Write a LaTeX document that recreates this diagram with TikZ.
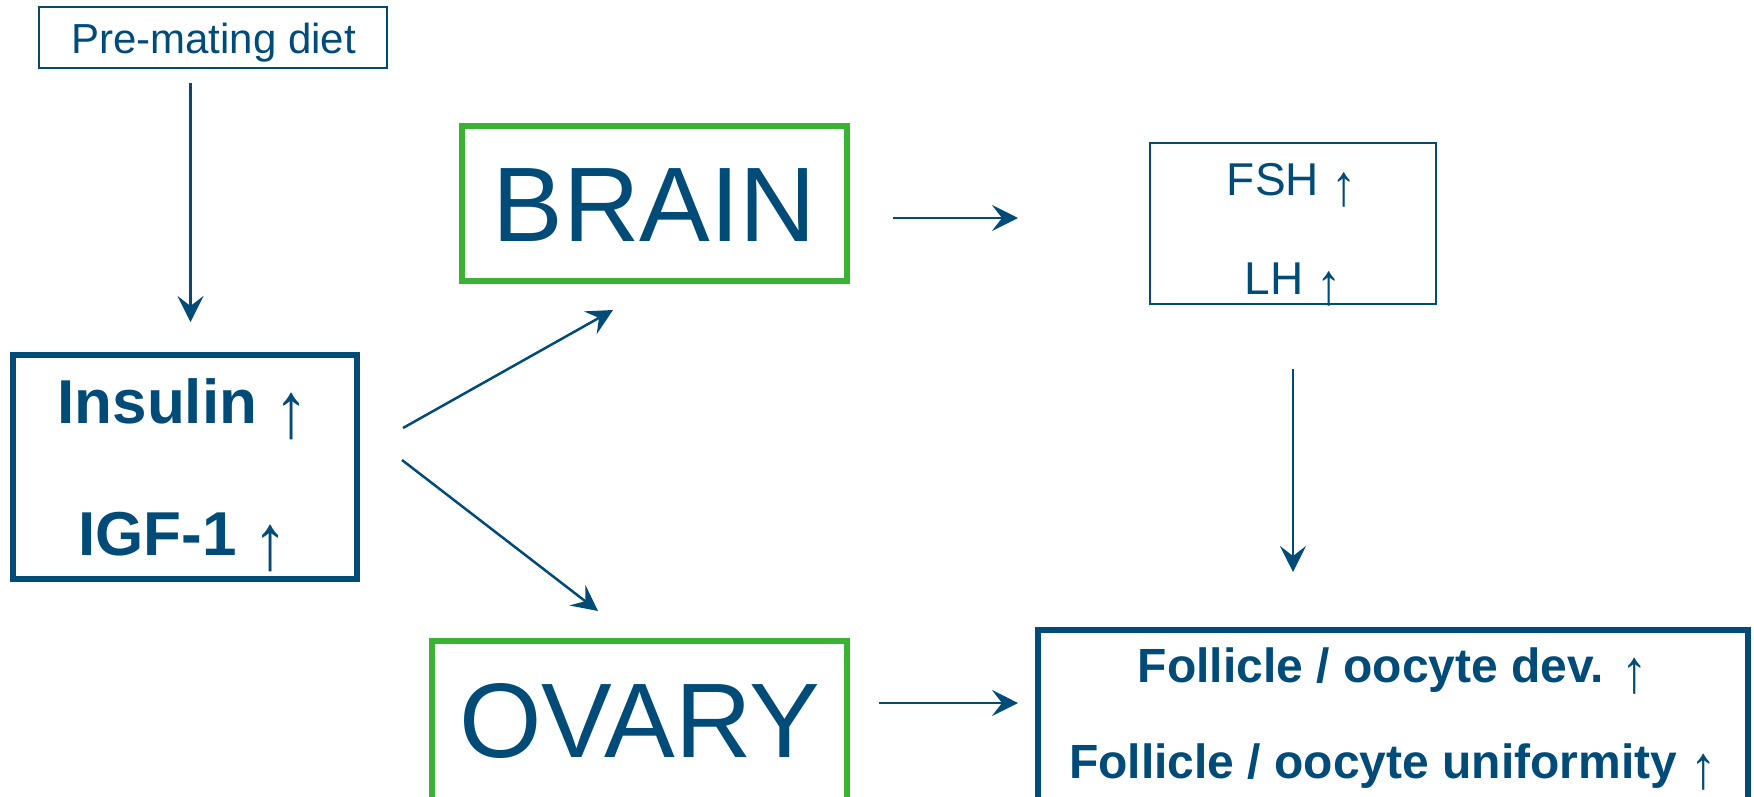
\documentclass[tikz,border=0pt]{standalone}
\usepackage{graphicx}
\usepackage{fontspec}
\setmainfont{Liberation Sans}
\usetikzlibrary{arrows.meta}
\definecolor{navy}{RGB}{0,75,120}
\definecolor{lgreen}{RGB}{58,178,52}
\newcommand\uarr{{\mdseries\raisebox{-0.226em}{\scalebox{1.1}[1.27]{↑}}}}
\begin{document}
\begin{tikzpicture}[x=1pt,y=-1pt,
  bluebox/.style={draw=navy, inner sep=0pt},
  greenbox/.style={draw=lgreen, line width=6pt, inner sep=0pt},
  txt/.style={text=navy, inner sep=0pt, anchor=base},
  conn/.style={draw=navy, line width=2.5pt, -{Stealth[length=26pt,width=26pt,inset=10pt]}}]
\clip (0,0) rectangle (1754,796);
% boxes
\node[bluebox, line width=2pt, minimum width=348pt, minimum height=61pt] (pre) at (213,37.5) {};
\node[bluebox, line width=6pt, minimum width=344pt, minimum height=224pt] (ins) at (185,467) {};
\node[greenbox, minimum width=385pt, minimum height=155pt] (brain) at (654.5,203.5) {};
\node[greenbox, minimum width=415pt, minimum height=219pt] (ovary) at (639.5,750.5) {};
\node[bluebox, line width=2pt, minimum width=286pt, minimum height=161pt] (hor) at (1293,223.5) {};
\node[bluebox, line width=6pt, minimum width=710pt, minimum height=230pt] (fol) at (1393,745) {};
% texts
\node[txt, font=\fontsize{42}{50}\selectfont] (pretxt) at (213.5,53) {Pre-mating diet};
\node[txt, font=\fontsize{62}{74}\selectfont\bfseries] (instxt) at (183,423) {Insulin \uarr};
\node[txt, font=\fontsize{62}{74}\selectfont\bfseries] (igftxt) at (183,555) {IGF-1 \uarr};
\node[txt, font=\fontsize{106}{120}\selectfont] (braintxt) at (654.5,241) {BRAIN};
\node[txt, font=\fontsize{106}{120}\selectfont] (ovarytxt) at (640,757) {OVARY};
\node[txt, font=\fontsize{46}{55}\selectfont] (fshtxt) at (1292,195) {FSH \uarr};
\node[txt, font=\fontsize{46}{55}\selectfont] (lhtxt) at (1293,294) {LH \uarr};
\node[txt, font=\fontsize{48}{58}\selectfont\bfseries] (fol1) at (1393,682) {Follicle / oocyte dev. \uarr};
\node[txt, font=\fontsize{48}{58}\selectfont\bfseries] (fol2) at (1393,778) {Follicle / oocyte uniformity \uarr};
% connector end points
\coordinate (a1s) at (190.5,83);  \coordinate (a1e) at (190.5,322);
\coordinate (a2s) at (403,428);   \coordinate (a2e) at (613,310);
\coordinate (a3s) at (402,460);   \coordinate (a3e) at (598,611);
\coordinate (a4s) at (893,218);   \coordinate (a4e) at (1018,218);
\coordinate (a5s) at (1293,369);  \coordinate (a5e) at (1293,572);
\coordinate (a6s) at (879,703);   \coordinate (a6e) at (1018,703);
\draw[conn] (a1s) -- (a1e);
\draw[conn] (a2s) -- (a2e);
\draw[conn] (a3s) -- (a3e);
\draw[conn] (a4s) -- (a4e);
\draw[conn] (a5s) -- (a5e);
\draw[conn] (a6s) -- (a6e);
\end{tikzpicture}
\end{document}
